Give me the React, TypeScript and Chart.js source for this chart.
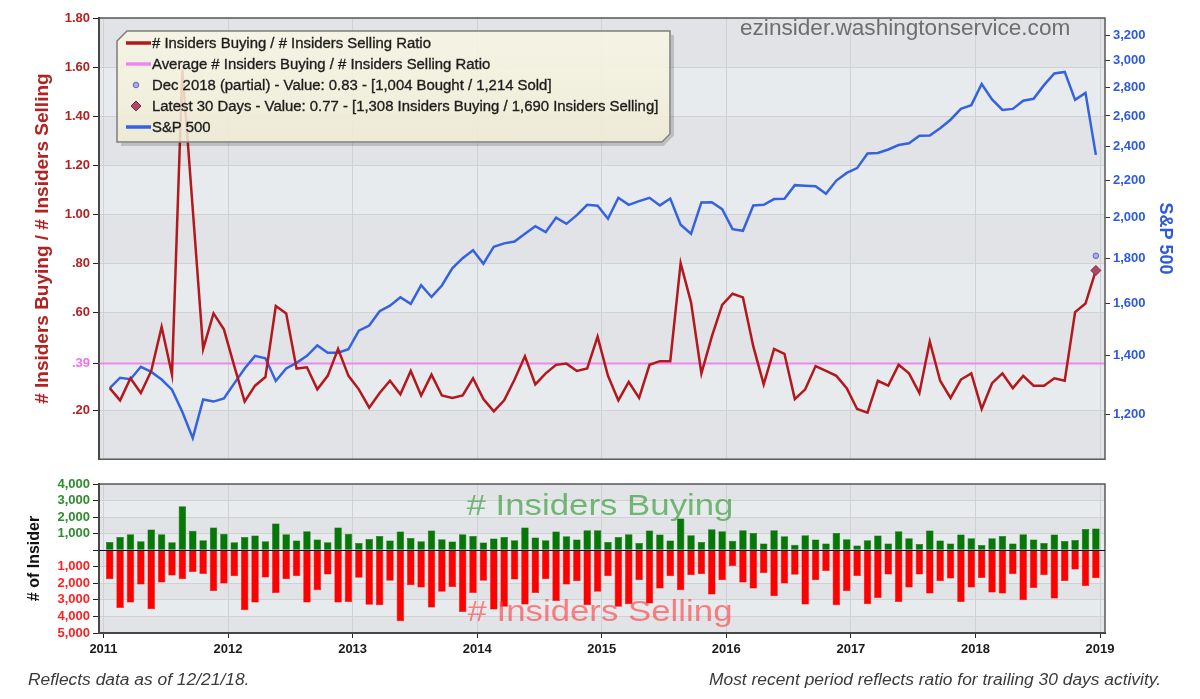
import React, { useEffect, useRef } from 'react';
import { Chart, registerables } from 'chart.js';

Chart.register(...registerables);

const FONT = '"Liberation Sans", Arial, Helvetica, sans-serif';

// ---------- categories ----------
const months: string[] = [];
for (let y = 2011; y <= 2018; y++) {
  for (let m = 1; m <= 12; m++) months.push(`${y}-${String(m).padStart(2, '0')}`);
}
const monthPos = (label: string) => {
  const [y, m] = label.split('-').map(Number);
  return y + (m - 1 + 0.6) / 12;
};

// ---------- series ----------
const ratioValues = [
  0.29, 0.24, 0.33, 0.27, 0.36, 0.54, 0.345, 1.59, 1.02, 0.45, 0.595, 0.53,
  0.38, 0.235, 0.30, 0.335, 0.625, 0.595, 0.37, 0.375, 0.285, 0.34, 0.45, 0.34,
  0.285, 0.21, 0.27, 0.32, 0.265, 0.36, 0.26, 0.345, 0.26, 0.25, 0.26, 0.33,
  0.245, 0.195, 0.24, 0.325, 0.42, 0.305, 0.35, 0.385, 0.39, 0.36, 0.37, 0.50,
  0.34, 0.24, 0.315, 0.25, 0.385, 0.40, 0.40, 0.80, 0.64, 0.35, 0.50, 0.63,
  0.675, 0.66, 0.46, 0.305, 0.45, 0.43, 0.245, 0.285, 0.38, 0.36, 0.34, 0.29,
  0.205, 0.19, 0.32, 0.30, 0.385, 0.35, 0.27, 0.48, 0.32, 0.25, 0.325, 0.35,
  0.205, 0.31, 0.35, 0.29, 0.34, 0.30, 0.30, 0.33, 0.32, 0.60, 0.635, 0.77,
];

const sp500Values = [
  1286, 1321, 1316, 1359, 1341, 1315, 1281, 1209, 1130, 1249, 1242, 1252,
  1302, 1353, 1398, 1389, 1310, 1353, 1373, 1398, 1436, 1409, 1409, 1422,
  1492, 1512, 1569, 1592, 1627, 1599, 1678, 1628, 1677, 1753, 1800, 1837,
  1774, 1854, 1870, 1879, 1917, 1955, 1925, 1999, 1967, 2012, 2066, 2061,
  1993, 2104, 2066, 2086, 2104, 2063, 2100, 1962, 1917, 2079, 2080, 2043,
  1940, 1932, 2063, 2066, 2097, 2099, 2174, 2171, 2168, 2126, 2200, 2244,
  2272, 2360, 2363, 2384, 2412, 2423, 2470, 2472, 2519, 2575, 2648, 2674,
  2824, 2714, 2641, 2648, 2705, 2718, 2816, 2902, 2914, 2711, 2760, 2351,
];

const insidersBuying = [
  500, 800, 970, 540, 1250, 970, 480, 2660, 1170, 600, 1370, 1000,
  480, 800, 890, 545, 1610, 970, 585, 1150, 645, 480, 1370, 1000,
  440, 685, 865, 585, 1125, 745, 545, 1190, 665, 525, 965, 865,
  460, 705, 805, 605, 1370, 765, 605, 1125, 845, 645, 1210, 1210,
  500, 805, 965, 440, 1190, 945, 585, 1915, 905, 500, 1270, 1150,
  565, 1210, 1045, 400, 1210, 845, 330, 906, 645, 403, 1047, 665,
  282, 604, 886, 403, 1148, 725, 383, 1188, 584, 403, 947, 725,
  322, 725, 866, 403, 967, 645, 443, 947, 564, 624, 1289, 1308,
];

const insidersSelling = [
  1750, 3490, 3160, 2075, 3570, 1955, 1530, 1750, 1310, 1430, 2460, 2015,
  1570, 3625, 3160, 1650, 2580, 1750, 1570, 3160, 2420, 1470, 3160, 3120,
  1670, 3290, 3320, 1850, 4290, 2115, 2255, 3465, 2515, 2215, 3725, 2580,
  1850, 3585, 3420, 1770, 3285, 2580, 1750, 3060, 2075, 1870, 3320, 2515,
  1570, 3420, 3265, 1810, 3225, 2315, 1570, 2420, 1510, 1450, 2680, 1810,
  950, 1955, 2315, 1370, 2780, 2015, 1480, 3283, 1813, 1249, 3323, 2457,
  1551, 3263, 2880, 1470, 3122, 2256, 1470, 2618, 1873, 1712, 3122, 2256,
  1672, 2558, 2618, 1450, 3021, 2276, 1511, 2920, 1853, 1168, 2155, 1690,
];

const averageRatio = 0.39;
const decPartialMonth = '2018-12';
const decPartialValue = 0.83;
const latest30Value = 0.77;

// ---------- ticks ----------
const yearTicks = [2011, 2012, 2013, 2014, 2015, 2016, 2017, 2018, 2019];
const ratioTicks = [0.2, 0.39, 0.6, 0.8, 1.0, 1.2, 1.4, 1.6, 1.8];
const ratioTickLabels = ['.20', '.39', '.60', '.80', '1.00', '1.20', '1.40', '1.60', '1.80'];
const spTicks = [1200, 1400, 1600, 1800, 2000, 2200, 2400, 2600, 2800, 3000, 3200];
const insiderTicks = [-5000, -4000, -3000, -2000, -1000, 0, 1000, 2000, 3000, 4000];

// ---------- texts ----------
const ratioLabel = '# Insiders Buying / # Insiders Selling Ratio';
const avgLabel = 'Average # Insiders Buying / # Insiders Selling Ratio';
const decLabel = 'Dec 2018 (partial) - Value: 0.83 - [1,004 Bought / 1,214 Sold]';
const latestLabel = 'Latest 30 Days - Value: 0.77 - [1,308 Insiders Buying / 1,690 Insiders Selling]';
const spLabel = 'S&P 500';

const X_MIN = 2010.964;
const X_MAX = 2019.04;

const RED = '#b3181d';
const BLUE = '#3563e0';
const PINK = '#ee88ee';
const GRID = '#d0d1d4';
const BAND_A = '#e2e3e6';
const BAND_B = '#e8ebee';

const bandPlugin = (scaleId: string, ticks: number[]) => ({
  id: 'bands_' + scaleId,
  beforeDraw(chart: any) {
    const { ctx, chartArea: a } = chart;
    const s = chart.scales[scaleId];
    const edges = [s.min, ...ticks.filter((v) => v > s.min && v < s.max), s.max];
    ctx.save();
    for (let k = 0; k < edges.length - 1; k++) {
      const y1 = s.getPixelForValue(edges[k]);
      const y2 = s.getPixelForValue(edges[k + 1]);
      ctx.fillStyle = k % 2 === 0 ? BAND_A : BAND_B;
      ctx.fillRect(a.left, y2, a.right - a.left, y1 - y2);
    }
    ctx.restore();
  },
});

const framePlugin = {
  id: 'frame',
  afterDatasetsDraw(chart: any) {
    const { ctx, chartArea: a } = chart;
    ctx.save();
    ctx.strokeStyle = '#5a5a5a';
    ctx.lineWidth = 1.5;
    ctx.strokeRect(a.left, a.top, a.right - a.left, a.bottom - a.top);
    ctx.restore();
  },
};

const zeroLinePlugin = {
  id: 'zeroLine',
  afterDatasetsDraw(chart: any) {
    const { ctx, chartArea: a } = chart;
    const y = Math.round(chart.scales.y.getPixelForValue(0)) + 0.5;
    ctx.save();
    ctx.strokeStyle = '#111';
    ctx.lineWidth = 1;
    ctx.beginPath();
    ctx.moveTo(a.left, y);
    ctx.lineTo(a.right, y);
    ctx.stroke();
    ctx.restore();
  },
};

function mainConfig(): any {
  const lastX = monthPos(decPartialMonth);
  return {
    type: 'line',
    data: {
      datasets: [
        {
          label: ratioLabel,
          data: months.map((m, i) => ({ x: monthPos(m), y: ratioValues[i] })),
          borderColor: RED,
          borderWidth: 2.5,
          pointRadius: 0,
          yAxisID: 'y',
          order: 2,
        },
        {
          label: avgLabel,
          data: [
            { x: X_MIN, y: averageRatio },
            { x: X_MAX, y: averageRatio },
          ],
          borderColor: PINK,
          borderWidth: 2,
          pointRadius: 0,
          yAxisID: 'y',
          order: 4,
        },
        {
          label: decLabel,
          data: [{ x: lastX, y: decPartialValue }],
          showLine: false,
          pointStyle: 'circle',
          pointRadius: 2.8,
          backgroundColor: '#a9a9ee',
          borderColor: '#6767b8',
          borderWidth: 1,
          yAxisID: 'y',
          order: 0,
        },
        {
          label: latestLabel,
          data: [{ x: lastX, y: latest30Value }],
          showLine: false,
          pointStyle: 'rectRot',
          pointRadius: 5,
          backgroundColor: '#b0466a',
          borderColor: '#8a2535',
          borderWidth: 1,
          yAxisID: 'y',
          order: 1,
        },
        {
          label: spLabel,
          data: months.map((m, i) => ({ x: monthPos(m), y: sp500Values[i] })),
          borderColor: BLUE,
          borderWidth: 2.5,
          pointRadius: 0,
          yAxisID: 'y2',
          order: 3,
        },
      ],
    },
    options: {
      animation: false,
      responsive: false,
      devicePixelRatio: 1,
      layout: { padding: { left: 31, right: 24, top: 18, bottom: 2 } },
      plugins: { legend: { display: false }, tooltip: { enabled: false } },
      scales: {
        x: {
          type: 'linear',
          min: X_MIN,
          max: X_MAX,
          afterBuildTicks: (s: any) => {
            s.ticks = yearTicks.map((v) => ({ value: v }));
          },
          afterFit: (s: any) => {
            s.height = 0;
          },
          ticks: { display: false },
          grid: { color: GRID, drawTicks: false },
          border: { display: false },
        },
        y: {
          type: 'linear',
          position: 'left',
          min: 0,
          max: 1.8,
          afterBuildTicks: (s: any) => {
            s.ticks = ratioTicks.map((v) => ({ value: v }));
          },
          afterFit: (s: any) => {
            s.width = 68;
          },
          ticks: {
            autoSkip: false,
            padding: 3,
            callback: (_v: any, i: number) => ratioTickLabels[i],
            color: (c: any) => (c.tick && c.tick.value === averageRatio ? '#f070f0' : '#b52020'),
            font: { family: FONT, size: 13, weight: 'bold' },
          },
          grid: { color: GRID, tickLength: 6, tickColor: '#222' },
          border: { display: true, color: '#111', width: 2 },
          title: {
            display: true,
            text: '# Insiders Buying / # Insiders Selling',
            color: '#b52020',
            padding: 0,
            font: { family: FONT, size: 19, weight: 'bold' },
          },
        },
        y2: {
          type: 'logarithmic',
          position: 'right',
          min: 1070,
          max: 3350,
          afterBuildTicks: (s: any) => {
            s.ticks = spTicks.map((v) => ({ value: v }));
          },
          afterFit: (s: any) => {
            s.width = 71;
          },
          ticks: {
            autoSkip: false,
            padding: 3,
            callback: (v: any) => Number(v).toLocaleString('en-US'),
            color: '#2d5ae0',
            font: { family: FONT, size: 13, weight: 'bold' },
          },
          grid: { drawOnChartArea: false, tickLength: 5, tickColor: '#333' },
          border: { display: false },
          title: {
            display: true,
            text: 'S&P 500',
            color: '#2d5ae0',
            padding: 0,
            font: { family: FONT, size: 18, weight: 'bold' },
          },
        },
      },
    },
    plugins: [bandPlugin('y', ratioTicks), framePlugin],
  };
}

function barConfig(): any {
  return {
    type: 'bar',
    data: {
      datasets: [
        {
          label: '# Insiders Buying',
          data: months.map((m, i) => ({ x: monthPos(m), y: insidersBuying[i] })),
          backgroundColor: '#067806',
          borderColor: '#045a04',
          borderWidth: 0.5,
          barPercentage: 0.8,
          categoryPercentage: 0.9,
        },
        {
          label: '# Insiders Selling',
          data: months.map((m, i) => ({ x: monthPos(m), y: -insidersSelling[i] })),
          backgroundColor: '#ff0000',
          borderColor: '#e00000',
          borderWidth: 0.5,
          barPercentage: 0.8,
          categoryPercentage: 0.9,
        },
      ],
    },
    options: {
      animation: false,
      responsive: false,
      devicePixelRatio: 1,
      layout: { padding: { left: 25, right: 95, top: 14, bottom: 0 } },
      plugins: { legend: { display: false }, tooltip: { enabled: false } },
      scales: {
        x: {
          type: 'linear',
          stacked: true,
          offset: false,
          min: X_MIN,
          max: X_MAX,
          afterBuildTicks: (s: any) => {
            s.ticks = yearTicks.map((v) => ({ value: v }));
          },
          afterFit: (s: any) => {
            s.height = 66;
          },
          ticks: {
            autoSkip: false,
            maxRotation: 0,
            padding: 4,
            callback: (v: any) => String(v),
            color: '#1a1a1a',
            font: { family: FONT, size: 13, weight: 'bold' },
          },
          grid: { color: GRID, offset: false, tickLength: 5, tickColor: '#222' },
          border: { display: true, color: '#111', width: 2 },
        },
        y: {
          stacked: true,
          min: -5000,
          max: 4000,
          afterBuildTicks: (s: any) => {
            s.ticks = insiderTicks.map((v) => ({ value: v }));
          },
          afterFit: (s: any) => {
            s.width = 74;
          },
          ticks: {
            autoSkip: false,
            padding: 3,
            callback: (v: any) => (Number(v) === 0 ? '' : Math.abs(Number(v)).toLocaleString('en-US')),
            color: (c: any) => (c.tick && c.tick.value > 0 ? '#2e8b2e' : '#ff2020'),
            font: { family: FONT, size: 13, weight: 'bold' },
          },
          grid: { color: GRID, tickLength: 6, tickColor: '#222' },
          border: { display: true, color: '#111', width: 2 },
          title: {
            display: true,
            text: '# of Insider',
            color: '#111',
            padding: 0,
            font: { family: FONT, size: 16, weight: 'bold' },
          },
        },
      },
    },
    plugins: [bandPlugin('y', insiderTicks), framePlugin, zeroLinePlugin],
  };
}

const legendRows = [
  { y: 43, text: ratioLabel },
  { y: 64, text: avgLabel },
  { y: 85, text: decLabel },
  { y: 106, text: latestLabel },
  { y: 127, text: spLabel },
];

export default function App() {
  const mainRef = useRef<HTMLCanvasElement>(null);
  const barRef = useRef<HTMLCanvasElement>(null);

  useEffect(() => {
    Chart.defaults.font.family = FONT;
    const c1 = new Chart(mainRef.current as HTMLCanvasElement, mainConfig());
    const c2 = new Chart(barRef.current as HTMLCanvasElement, barConfig());
    return () => {
      c1.destroy();
      c2.destroy();
    };
  }, []);

  const textBase: React.CSSProperties = {
    position: 'absolute',
    whiteSpace: 'nowrap',
    fontFamily: FONT,
    pointerEvents: 'none',
  };

  return (
    <div
      style={{
        position: 'absolute',
        left: 0,
        top: 0,
        width: 1200,
        height: 699,
        background: '#ffffff',
        overflow: 'hidden',
        fontFamily: FONT,
      }}
    >
      <canvas
        ref={mainRef}
        width={1200}
        height={470}
        style={{ position: 'absolute', left: 0, top: 0, width: 1200, height: 470 }}
      />
      <canvas
        ref={barRef}
        width={1200}
        height={229}
        style={{ position: 'absolute', left: 0, top: 470, width: 1200, height: 229 }}
      />

      {/* watermark */}
      <div style={{ ...textBase, left: 740, top: 17, fontSize: 22.6, lineHeight: '22px', color: '#6e6e6e' }}>
        ezinsider.washingtonservice.com
      </div>

      {/* legend box */}
      <svg
        width={1200}
        height={470}
        style={{ position: 'absolute', left: 0, top: 0, pointerEvents: 'none' }}
      >
        <defs>
          <linearGradient id="lgfill" x1="0" y1="0" x2="0" y2="1">
            <stop offset="0" stopColor="#f8f6e4" />
            <stop offset="1" stopColor="#eeecd3" />
          </linearGradient>
        </defs>
        <polyline points="121,144.5 663,144.5 672.5,135 672.5,35" fill="none" stroke="rgba(0,0,0,0.16)" strokeWidth={3} />
        <polygon
          points="127,31 670,31 670,134 662,142 117,142 117,41"
          fill="url(#lgfill)"
          fillOpacity={0.86}
          stroke="#7d7d7d"
          strokeWidth={1.5}
        />
        <line x1={126} y1={43} x2={151} y2={43} stroke={RED} strokeWidth={3.5} />
        <line x1={126} y1={64} x2={151} y2={64} stroke={PINK} strokeWidth={3.5} />
        <circle cx={136} cy={85} r={2.8} fill="#a9a9ee" stroke="#6767b8" strokeWidth={1} />
        <polygon points="136,101 141,106 136,111 131,106" fill="#b0466a" stroke="#8a2535" strokeWidth={1} />
        <line x1={126} y1={127} x2={151} y2={127} stroke={BLUE} strokeWidth={3.5} />
      </svg>
      {legendRows.map((r) => (
        <div
          key={r.y}
          style={{
            ...textBase,
            left: 152,
            top: r.y - 9,
            fontSize: 14.9,
            lineHeight: '18px',
            color: '#1e1e1e',
            WebkitTextStroke: '0.35px #1e1e1e',
          }}
        >
          {r.text}
        </div>
      ))}

      {/* big labels in bar panel */}
      <div
        style={{
          ...textBase,
          left: 600,
          top: 490,
          fontSize: 30,
          lineHeight: '30px',
          color: 'rgba(40,150,40,0.62)',
          transform: 'translateX(-50%) scaleX(1.16)',
        }}
      >
        # Insiders Buying
      </div>
      <div
        style={{
          ...textBase,
          left: 600,
          top: 596,
          fontSize: 30,
          lineHeight: '30px',
          color: 'rgba(255,60,60,0.62)',
          transform: 'translateX(-50%) scaleX(1.16)',
        }}
      >
        # Insiders Selling
      </div>

      {/* footers */}
      <div style={{ ...textBase, left: 28, top: 669, fontSize: 17.4, lineHeight: '20px', fontStyle: 'italic', color: '#3a3a3a' }}>
        Reflects data as of 12/21/18.
      </div>
      <div
        style={{
          ...textBase,
          right: 1200 - 1161,
          top: 669,
          fontSize: 17.4,
          lineHeight: '20px',
          fontStyle: 'italic',
          color: '#3a3a3a',
        }}
      >
        Most recent period reflects ratio for trailing 30 days activity.
      </div>
    </div>
  );
}
